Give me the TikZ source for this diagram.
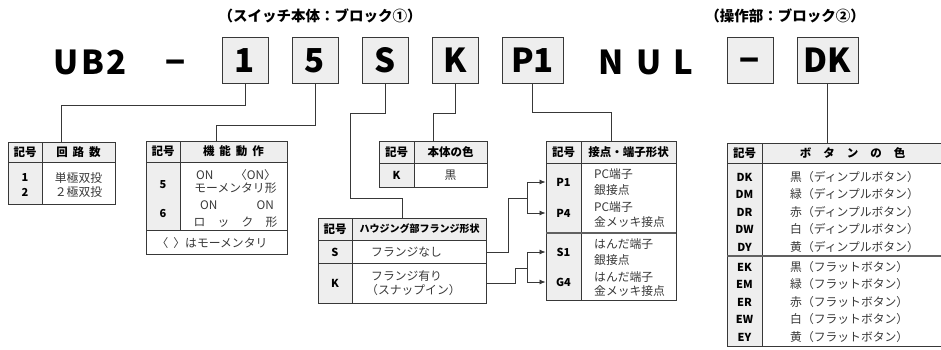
\documentclass[tikz,border=0pt]{standalone}
\usepackage{fontspec}
\setmainfont{Noto Sans CJK JP}
\usetikzlibrary{arrows.meta,positioning}
\definecolor{linie}{gray}{0.22}
\definecolor{grau}{gray}{0.935}
\definecolor{schrift}{gray}{0.22}
\tikzset{
    %Define standard arrow tip
    >={Latex[length=6pt,width=5pt]},
    %Define style for code boxes
    kode/.style={
           rectangle,
           draw=linie, thick,
           fill=grau,
           minimum width=46,
           minimum height=46,
           inner sep=0pt,
           text height=24pt, text depth=0pt,
           font=\fontsize{33}{33}\selectfont\bfseries},
    gross/.style={
           inner sep=0pt,
           text height=24pt, text depth=0pt,
           font=\fontsize{33}{33}\selectfont\bfseries},
    titel/.style={
           inner sep=0pt,
           font=\fontsize{14.5}{16}\selectfont\bfseries},
    %Define style for tables
    tabelle/.style={
           rectangle,
           draw=linie, line width=0.9pt,
           inner sep=0pt},
    gitter/.style={draw=linie, line width=0.9pt},
    trenner/.style={draw=gray!75!black, line width=1.8pt},
    kopf/.style={inner sep=0pt, font=\fontsize{11.5}{13}\selectfont\bfseries},
    zeichen/.style={inner sep=0pt, font=\fontsize{11}{13}\selectfont\bfseries},
    wert/.style={inner sep=0pt, text=schrift, font=\fontsize{11.8}{14}\selectfont},
    % Define line style
    pil/.style={
           draw=linie,
           line width=0.8pt},
}
\begin{document}
\begin{tikzpicture}[x=1pt, y=-1pt]
\useasboundingbox (0,0) rectangle (941,349);

%titles over the blocks
\node[titel] (titel1) at (320,16) {（スイッチ本体：ブロック①）};
\node[titel] (titel2) at (785,16) {（操作部：ブロック②）};

%code row
\node[gross] (ub2) at (90,62) {U\kern2pt B\kern2pt 2};
\node[gross] (strich) at (176,62) {−};
\node[kode] (b1) at (245,60) {1};
\node[kode] (b5) at (315,60) {5};
\node[kode] (bS) at (385,60) {S};
\node[kode] (bK) at (455,60) {K};
\node[kode, minimum width=61] (bP) at (532.5,60) {P1};
\node[gross] (nul) at (646,62) {N\hspace{12pt}U\hspace{12pt}L};
\node[kode] (bStrich) at (750,60) {−};
\node[kode, minimum width=61] (bDK) at (827.5,60) {DK};

%table: circuits
\fill[grau] (8,142) rectangle (115,162) (8,162) rectangle (42,204);
\node[tabelle, minimum width=107, minimum height=62] (tab1) at (61.5,173) {};
\draw[gitter] (8,162) -- (115,162) (42,142) -- (42,204);
\node[kopf] (k1) at (25,152) {記号};
\node[kopf] (h1) at (78.5,152) {回\hspace{5pt}路\hspace{5pt}数};
\node[zeichen] (s1) at (25,178) {1};
\node[zeichen] (s2) at (25,192) {2};
\node[wert] (w1) at (78.5,178) {単極双投};
\node[wert] (w2) at (78.5,192) {２極双投};

%table: function
\fill[grau] (146,141) rectangle (287,162) (146,162) rectangle (180,230);
\node[tabelle, minimum width=141, minimum height=113] (tab2) at (216.5,197.5) {};
\draw[gitter] (146,162) -- (287,162) (180,141) -- (180,230) (146,230) -- (287,230);
\node[kopf] (k2) at (163,151.5) {記号};
\node[kopf] (h2) at (233.5,151.5) {機\hspace{5pt}能\hspace{5pt}動\hspace{5pt}作};
\node[zeichen] (s5) at (163,185) {5};
\node[zeichen] (s6) at (163,213) {6};
\node[wert] (w5a) at (236,175) {\makebox[80pt]{ON\hfill〈ON〉}};
\node[wert] (w5b) at (235.5,188) {モーメンタリ形};
\node[wert] (w6a) at (236,205) {\makebox[76pt]{\hspace{2pt}ON\hfill ON}};
\node[wert] (w6b) at (235.5,222) {\makebox[84pt]{ロ\hfill ッ\hfill ク\hfill 形}};
\node[wert] (fuss) at (212,243) {〈\hspace{5pt}〉はモーメンタリ};

%table: body colour
\fill[grau] (379,141) rectangle (487,163) (379,163) rectangle (414,187);
\node[tabelle, minimum width=108, minimum height=46] (tabK) at (433,164) {};
\draw[gitter] (379,163) -- (487,163) (414,141) -- (414,187);
\node[kopf] (kK) at (396.5,152) {記号};
\node[kopf] (hK) at (450.5,152) {本体の色};
\node[zeichen] (sK1) at (396.5,175) {K};
\node[wert] (wK1) at (450.5,175) {黒};

%table: flange
\fill[grau] (318,218) rectangle (486,240) (318,240) rectangle (352,303);
\node[tabelle, minimum width=168, minimum height=85] (tab3) at (402,260.5) {};
\draw[gitter] (318,240) -- (486,240) (352,218) -- (352,303) (318,263) -- (486,263);
\node[kopf] (k3) at (335,229) {記号};
\node[kopf, font=\fontsize{10}{12}\selectfont\bfseries] (h3) at (419.5,229) {ハウジング部フランジ形状};
\node[zeichen] (sS) at (335,252) {S};
\node[zeichen] (sKf) at (335,283) {K};
\node[wert, anchor=west] (wS) at (371,252) {フランジなし};
\node[wert, anchor=west] (wKa) at (371,276) {フランジ有り};
\node[wert, anchor=west] (wKb) at (366,290) {（スナップイン）};

%table: terminals
\fill[grau] (546,141) rectangle (676,163) (546,163) rectangle (581,300);
\node[tabelle, minimum width=130, minimum height=159] (tabP) at (611,220.5) {};
\draw[gitter] (546,163) -- (676,163) (581,141) -- (581,300);
\draw[trenner] (546,233) -- (676,233);
\node[kopf] (kP) at (563.5,152) {記号};
\node[kopf] (hP) at (628.5,152) {接点・端子形状};
\node[zeichen] (pP1) at (563.5,182) {P1};
\node[zeichen] (pP4) at (563.5,213) {P4};
\node[zeichen] (pS1) at (563.5,252) {S1};
\node[zeichen] (pG4) at (563.5,282) {G4};
\node[wert, anchor=west] (wP1a) at (594,174) {PC端子};
\node[wert, anchor=west] (wP1b) at (594,190) {銀接点};
\node[wert, anchor=west] (wP4a) at (594,207) {PC端子};
\node[wert, anchor=west] (wP4b) at (594,222) {金メッキ接点};
\node[wert, anchor=west] (wS1a) at (594,244) {はんだ端子};
\node[wert, anchor=west] (wS1b) at (594,260) {銀接点};
\node[wert, anchor=west] (wG4a) at (594,277) {はんだ端子};
\node[wert, anchor=west] (wG4b) at (594,291) {金メッキ接点};

%table: button colour
\fill[grau] (727,143) rectangle (941,163) (727,163) rectangle (762,346);
\node[tabelle, minimum width=214, minimum height=203] (tabD) at (834,244.5) {};
\draw[gitter] (727,163) -- (941,163) (762,143) -- (762,346);
\draw[trenner] (727,256) -- (941,256);
\node[kopf] (kD) at (744.5,153) {記号};
\node[kopf] (hD) at (852.5,153) {ボ\hspace{12pt}タ\hspace{12pt}ン\hspace{12pt}の\hspace{12pt}色};
\node[zeichen] (dDK) at (744.5,177) {DK};
\node[zeichen] (dDM) at (744.5,194.5) {DM};
\node[zeichen] (dDR) at (744.5,212) {DR};
\node[zeichen] (dDW) at (744.5,229.5) {DW};
\node[zeichen] (dDY) at (744.5,247) {DY};
\node[zeichen] (dEK) at (744.5,267) {EK};
\node[zeichen] (dEM) at (744.5,284.5) {EM};
\node[zeichen] (dER) at (744.5,302) {ER};
\node[zeichen] (dEW) at (744.5,319.5) {EW};
\node[zeichen] (dEY) at (744.5,337) {EY};
\node[wert, anchor=west] (wDK) at (790,177) {黒（ディンプルボタン）};
\node[wert, anchor=west] (wDM) at (790,194.5) {緑（ディンプルボタン）};
\node[wert, anchor=west] (wDR) at (790,212) {赤（ディンプルボタン）};
\node[wert, anchor=west] (wDW) at (790,229.5) {白（ディンプルボタン）};
\node[wert, anchor=west] (wDY) at (790,247) {黄（ディンプルボタン）};
\node[wert, anchor=west] (wEK) at (790,267) {黒（フラットボタン）};
\node[wert, anchor=west] (wEM) at (790,284.5) {緑（フラットボタン）};
\node[wert, anchor=west] (wER) at (790,302) {赤（フラットボタン）};
\node[wert, anchor=west] (wEW) at (790,319.5) {白（フラットボタン）};
\node[wert, anchor=west] (wEY) at (790,337) {黄（フラットボタン）};

%connectors from the code boxes
\coordinate (knick) at (350,198);
\draw[pil] (b1.south) -- ++(0,22) -| (tab1.north);
\draw[pil] (b5.south) -- ++(0,42) -| (tab2.north);
\draw[pil] (bS.south) -- ++(0,30) -| (knick) -| (tab3.north);
\draw[pil] (bK.south) -- ++(0,30) -| (tabK.north);
\draw[pil] (bP.south) -- ++(0,29) -| (tabP.north);
\draw[pil] (bDK.south) -- (bDK.south |- tabD.north);

%flange rows to terminal rows
\coordinate (k1) at (508,198);
\coordinate (g1) at (527,198);
\coordinate (k2) at (515,268);
\coordinate (g2) at (527,268);
\draw[pil] (tab3.east |- sS) -| (k1) -- (g1);
\draw[pil, ->] (g1) |- (tabP.west |- pP1);
\draw[pil, ->] (g1) |- (tabP.west |- pP4);
\draw[pil] (tab3.east |- sKf) -| (k2) -- (g2);
\draw[pil, ->] (g2) |- (tabP.west |- pS1);
\draw[pil, ->] (g2) |- (tabP.west |- pG4);

\end{tikzpicture}
\end{document}
